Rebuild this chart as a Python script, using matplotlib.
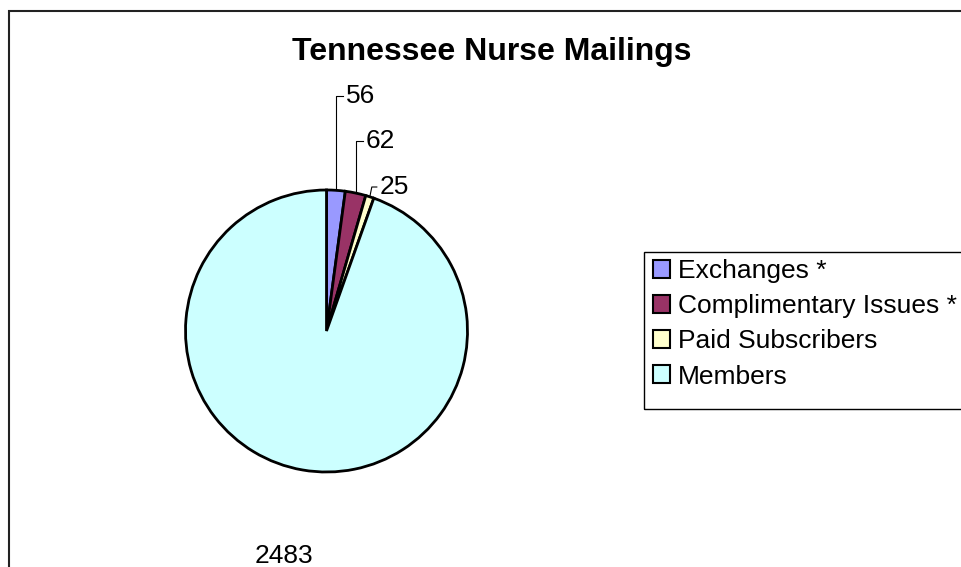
import matplotlib.pyplot as plt
import numpy as np
from matplotlib.patches import Rectangle

plt.rcParams['font.family'] = ['Liberation Sans', 'DejaVu Sans']

categories = ['Exchanges *', 'Complimentary Issues *', 'Paid Subscribers', 'Members']
values = [56, 62, 25, 2483]
colors = ['#9999ff', '#993366', '#ffffcc', '#ccffff']

W, H = 961, 567
fig = plt.figure(figsize=(W / 100, H / 100), dpi=100)
ax = fig.add_axes([0, 0, 1, 1])

cx, cy, r = 326.5, H - 331, 141
wedges, _ = ax.pie(values, colors=colors, startangle=90, counterclock=False,
                   center=(cx, cy), radius=r, frame=True,
                   wedgeprops=dict(edgecolor='black', linewidth=2))
ax.set_xlim(0, W)
ax.set_ylim(0, H)
ax.axis('off')

# outer chart frame (right/bottom edges fall off the picture)
ax.add_patch(Rectangle((9, -20), W + 20, H - 11 + 20, fill=False,
                       edgecolor='#222222', linewidth=1.5))

# data labels: small slices get leader lines up to fixed heights
label_y = [H - 96, H - 141, H - 187]
for w, v, ly in zip(wedges[:3], values[:3], label_y):
    mid = np.deg2rad((w.theta1 + w.theta2) / 2)
    ex = cx + r * np.cos(mid)
    ey = cy + r * np.sin(mid)
    ax.plot([ex, ex + 2 * (ly < H - 180), ex + 7], [ey, ly, ly],
            color='black', linewidth=0.8)
    ax.text(ex + 10, ly, str(v), fontsize=19, va='center', ha='left')

w = wedges[3]
mid = np.deg2rad((w.theta1 + w.theta2) / 2)
ax.text(cx + 1.6 * r * np.cos(mid) - 4, cy + 1.6 * r * np.sin(mid) - 3,
        str(values[3]), fontsize=19, ha='center', va='center')

ax.text(492, H - 52, 'Tennessee Nurse Mailings', fontsize=23,
        fontweight='bold', ha='center', va='center')

# legend box runs past the right edge like the original
ax.add_patch(Rectangle((644, H - 409), 340, 157, fill=False,
                       edgecolor='black', linewidth=1))
leg = fig.legend(wedges, categories, loc='upper left',
                 bbox_to_anchor=(648 / W, 1 - 254 / H), fontsize=19,
                 frameon=False, handlelength=0.65, handleheight=0.65,
                 handletextpad=0.3, borderpad=0.2, labelspacing=0.42,
                 borderaxespad=0)
for h in leg.legend_handles:
    h.set_linewidth(1.5)

fig.savefig('out.png', dpi=100)
